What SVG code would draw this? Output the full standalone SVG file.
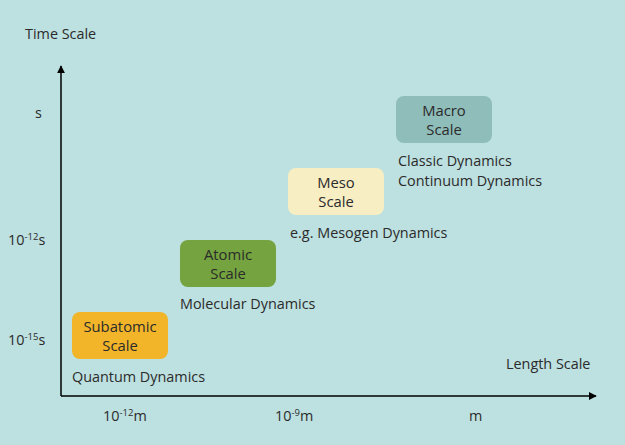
<svg xmlns="http://www.w3.org/2000/svg" width="625" height="445" viewBox="0 0 625 445">
<defs>
<style>
text{font-family:"Open Sans","DejaVu Sans",sans-serif;fill:#2b2b2b;font-size:14.4px}
.box text{font-size:14.8px;text-anchor:middle}
.ax{stroke:#000;stroke-width:1.5;fill:none}
</style>
<marker id="ah" viewBox="0 0 10 10" refX="9" refY="5" markerWidth="8" markerHeight="8" markerUnits="userSpaceOnUse" orient="auto"><path d="M0,0L10,5L0,10z" fill="#000"/></marker>
</defs>
<rect width="625" height="445" fill="#bde0e0"/>
<g id="connectors">
<path class="ax" d="M61,396V66" marker-end="url(#ah)"/>
<path class="ax" d="M61,396H596" marker-end="url(#ah)"/>
</g>
<g id="axis-labels">
<text x="25" y="39">Time Scale</text>
<text x="506" y="369">Length Scale</text>
<text x="35" y="118">s</text>
<text x="8" y="245">10<tspan dy="-5" font-size="9.5">-12</tspan><tspan dy="5">s</tspan></text>
<text x="8" y="345">10<tspan dy="-5" font-size="9.5">-15</tspan><tspan dy="5">s</tspan></text>
<text x="103" y="421">10<tspan dy="-5" font-size="9.5">-12</tspan><tspan dy="5">m</tspan></text>
<text x="275" y="421">10<tspan dy="-5" font-size="9.5">-9</tspan><tspan dy="5">m</tspan></text>
<text x="469" y="421">m</text>
</g>
<g id="subatomic" class="box">
<rect x="72" y="312" width="96" height="47" rx="8" fill="#f2b52a"/>
<text x="120" y="332">Subatomic</text>
<text x="120" y="351">Scale</text>
</g>
<text x="72" y="382">Quantum Dynamics</text>
<g id="atomic" class="box">
<rect x="180" y="240" width="96" height="47" rx="8" fill="#74a33f"/>
<text x="228" y="260">Atomic</text>
<text x="228" y="279">Scale</text>
</g>
<text x="180" y="309">Molecular Dynamics</text>
<g id="meso" class="box">
<rect x="288" y="168" width="96" height="47" rx="8" fill="#f8eec3"/>
<text x="336" y="188">Meso</text>
<text x="336" y="207">Scale</text>
</g>
<text x="290" y="238">e.g. Mesogen Dynamics</text>
<g id="macro" class="box">
<rect x="396" y="96" width="96" height="47" rx="8" fill="#8fbdb9"/>
<text x="444" y="116">Macro</text>
<text x="444" y="135">Scale</text>
</g>
<text x="398" y="166">Classic Dynamics</text>
<text x="398" y="186">Continuum Dynamics</text>
</svg>
